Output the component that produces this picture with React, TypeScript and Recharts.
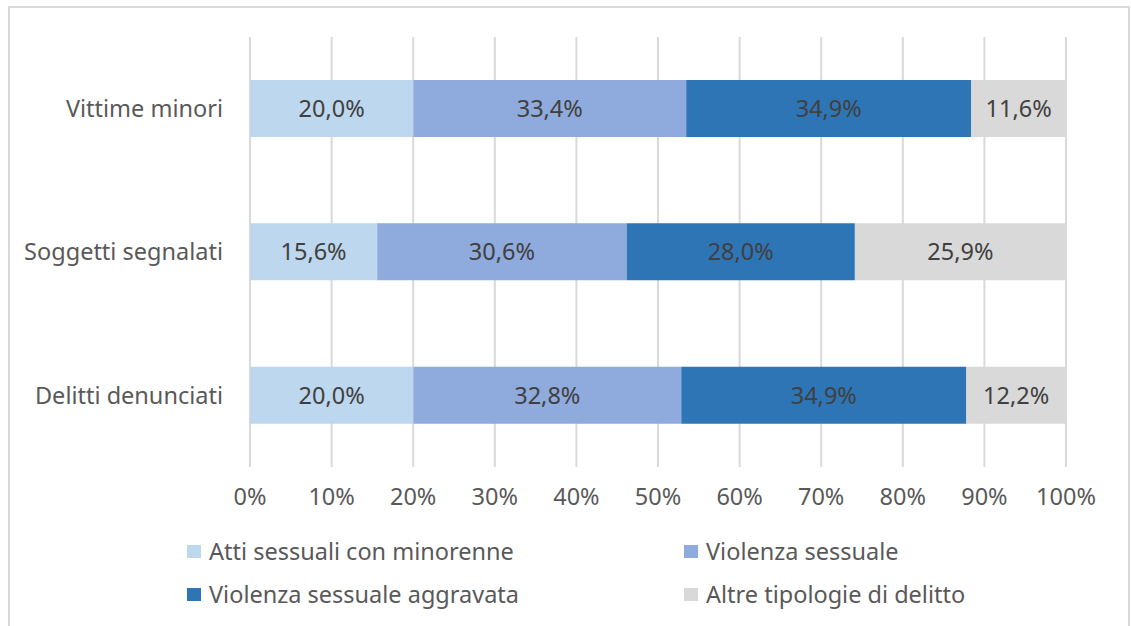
import React from "react";
import { Bar, BarChart, CartesianGrid, LabelList, XAxis, YAxis } from "recharts";

const categories = ["Vittime minori", "Soggetti segnalati", "Delitti denunciati"];
const attiSessuali = [20.0, 15.6, 20.0];
const violenzaSessuale = [33.4, 30.6, 32.8];
const violenzaAggravata = [34.9, 28.0, 34.9];
const altreTipologie = [11.6, 25.9, 12.2];
const xTicks = [0, 0.1, 0.2, 0.3, 0.4, 0.5, 0.6, 0.7, 0.8, 0.9, 1];

const series = [
  { key: "atti", name: "Atti sessuali con minorenne", color: "#bdd7ee" },
  { key: "violenza", name: "Violenza sessuale", color: "#8faadc" },
  { key: "aggravata", name: "Violenza sessuale aggravata", color: "#2e75b6" },
  { key: "altre", name: "Altre tipologie di delitto", color: "#d9d9d9" },
];

const data = categories.map((name, i) => ({
  name,
  atti: attiSessuali[i],
  violenza: violenzaSessuale[i],
  aggravata: violenzaAggravata[i],
  altre: altreTipologie[i],
}));

const FONT = "'Noto Sans', 'Open Sans', sans-serif";
const FS = 23.5;

const pct = (v: number) => v.toFixed(1).replace(".", ",") + "%";

// legend drawn as a 2x2 grid like the Excel original
function LegendGrid() {
  const cols = [187, 684];
  const rows = [551, 594];
  return (
    <div style={{ position: "absolute", left: 0, top: 0, width: 1131, height: 626, pointerEvents: "none" }}>
      {series.map((s, i) => (
        <div
          key={s.key}
          style={{
            position: "absolute",
            left: cols[i % 2],
            top: rows[Math.floor(i / 2)] - 12,
            height: 24,
            lineHeight: "24px",
            display: "flex",
            alignItems: "center",
            fontFamily: FONT,
            fontSize: FS,
            color: "#595959",
            whiteSpace: "nowrap",
          }}
        >
          <span style={{ width: 14, height: 13, background: s.color, display: "inline-block", marginRight: 8 }} />
          {s.name}
        </div>
      ))}
    </div>
  );
}

export default function App() {
  return (
    <div style={{ position: "absolute", left: 0, top: 0, width: 1131, height: 626, overflow: "hidden", background: "#fff" }}>
      <div
        style={{
          position: "absolute",
          left: 8,
          top: 6,
          width: 1118,
          height: 660,
          border: "2px solid #d9d9d9",
        }}
      />
      <BarChart
        width={1131}
        height={626}
        data={data}
        layout="vertical"
        stackOffset="expand"
        barCategoryGap="30%"
        margin={{ top: 37, right: 65, bottom: 129, left: 10 }}
      >
        <CartesianGrid horizontal={false} stroke="#d9d9d9" strokeWidth={2} />
        <XAxis
          type="number"
          domain={[0, 1]}
          ticks={xTicks}
          tickFormatter={(v) => `${Math.round(Number(v) * 100)}%`}
          axisLine={false}
          tickLine={false}
          tickSize={0}
          tickMargin={21}
          height={30}
          tick={{ fill: "#595959", fontSize: FS, fontFamily: FONT }}
          interval={0}
        />
        <YAxis
          type="category"
          dataKey="name"
          width={240}
          axisLine={false}
          tickLine={false}
          tickSize={0}
          tickMargin={27}
          tick={{ fill: "#595959", fontSize: FS, fontFamily: FONT }}
        />
        {series.map((s) => (
          <Bar key={s.key} dataKey={s.key} name={s.name} stackId="a" fill={s.color} isAnimationActive={false}>
            <LabelList
              dataKey={s.key}
              position="center"
              formatter={(v: any) => pct(Number(v))}
              style={{ fill: "#404040", fontSize: FS, fontFamily: FONT }}
            />
          </Bar>
        ))}
      </BarChart>
      <LegendGrid />
    </div>
  );
}
